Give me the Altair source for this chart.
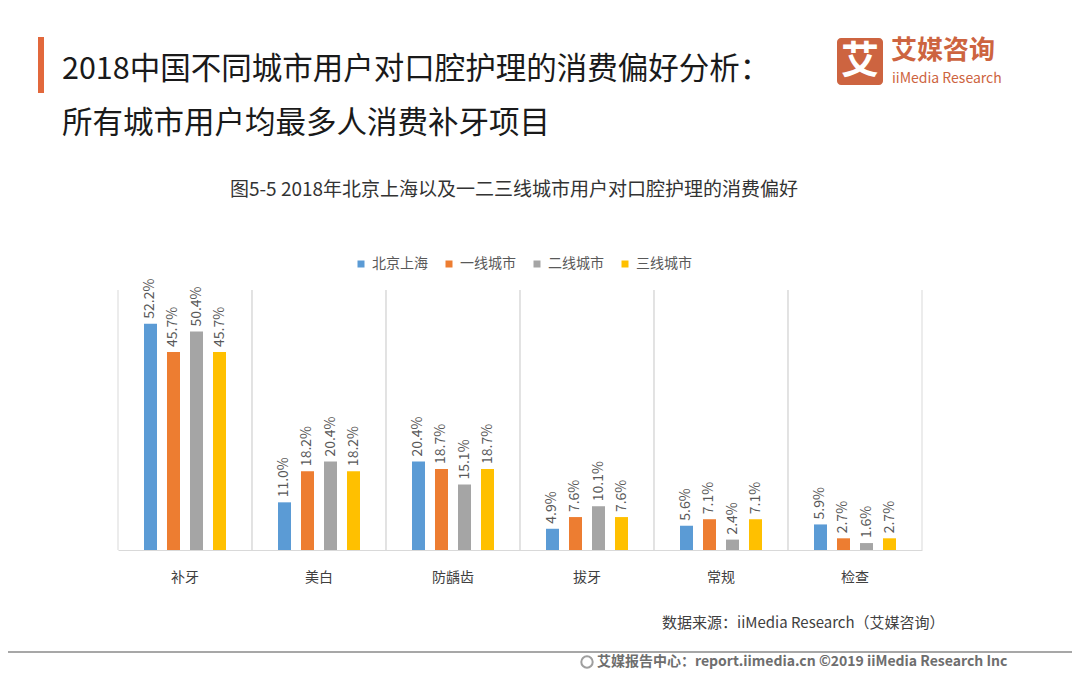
import altair as alt
import pandas as pd

categories = ["补牙", "美白", "防龋齿", "拔牙", "常规", "检查"]
series = ["北京上海", "一线城市", "二线城市", "三线城市"]
beijing_shanghai = [52.2, 11.0, 20.4, 4.9, 5.6, 5.9]
tier1 = [45.7, 18.2, 18.7, 7.6, 7.1, 2.7]
tier2 = [50.4, 20.4, 15.1, 10.1, 2.4, 1.6]
tier3 = [45.7, 18.2, 18.7, 7.6, 7.1, 2.7]
colors = ["#5B9BD5", "#ED7D31", "#A5A5A5", "#FFC000"]

title1 = "2018中国不同城市用户对口腔护理的消费偏好分析："
title2 = "所有城市用户均最多人消费补牙项目"
subtitle = "图5-5  2018年北京上海以及一二三线城市用户对口腔护理的消费偏好"
source = "数据来源：iiMedia Research（艾媒咨询）"
footer = "艾媒报告中心：report.iimedia.cn   ©2019   iiMedia Research Inc"
logo_cn = "艾媒咨询"
logo_en = "iiMedia Research"

FONT = "Noto Sans CJK SC"

rows = []
for s, vals in zip(series, [beijing_shanghai, tier1, tier2, tier3]):
    for c, v in zip(categories, vals):
        rows.append({"cat": c, "series": s, "value": v, "label": f"{v:.1f}%"})
df = pd.DataFrame(rows)
cat_df = pd.DataFrame({"cat": categories})

W, H = 804, 260

x_enc = alt.X(
    "cat:N", sort=categories,
    scale=alt.Scale(paddingInner=0, paddingOuter=0),
    axis=alt.Axis(title=None, labels=False, ticks=False, grid=False,
                  domainColor="#D9D9D9"),
)
xo_enc = alt.XOffset("series:N", sort=series,
                     scale=alt.Scale(paddingInner=0, paddingOuter=0.913))
y_enc = alt.Y("value:Q", scale=alt.Scale(domain=[0, 60]), axis=None)

base = alt.Chart(df)

bars = base.mark_bar(width=13).encode(
    x=x_enc, xOffset=xo_enc, y=y_enc,
    color=alt.Color("series:N", sort=series,
                    scale=alt.Scale(domain=series, range=colors),
                    legend=alt.Legend(title=None, orient="none", legendX=236, legendY=-33,
                                      direction="horizontal", symbolType="square",
                                      symbolSize=49, symbolStrokeWidth=0,
                                      labelFont=FONT, labelFontSize=14,
                                      labelColor="#595959", columnPadding=14,
                                      labelOffset=4, padding=0)),
)

labels = base.mark_text(angle=270, align="left", baseline="middle", dx=5,
                        font=FONT, fontSize=14, color="#595959").encode(
    x=x_enc, xOffset=xo_enc, y=y_enc, text="label:N",
)

cat_labels = alt.Chart(cat_df).mark_text(
    align="center", baseline="middle", font=FONT, fontSize=14, color="#404040",
).encode(
    x=alt.X("cat:N", sort=categories), y=alt.value(288), text="cat:N",
)

left_edges = alt.Chart(cat_df).mark_rule(color="#D9D9D9", strokeWidth=1).encode(
    x=alt.X("cat:N", sort=categories, bandPosition=0),
)
right_edges = alt.Chart(cat_df).mark_rule(color="#D9D9D9", strokeWidth=1).encode(
    x=alt.X("cat:N", sort=categories, bandPosition=1),
)

one = pd.DataFrame({"t": [0]})


def txt(text, x, y, size, color, align="left", weight="normal", baseline="middle"):
    return alt.Chart(pd.DataFrame({"t": [text]})).mark_text(
        align=align, baseline=baseline, font=FONT, fontSize=size, color=color,
        fontWeight=weight,
    ).encode(x=alt.value(x), y=alt.value(y), text="t:N")


accent = alt.Chart(one).mark_rect(color="#E2683C").encode(
    x=alt.value(-80), x2=alt.value(-74), y=alt.value(-253), y2=alt.value(-197))

logo_box = alt.Chart(one).mark_rect(color="#CD6440", cornerRadius=4).encode(
    x=alt.value(837 - 118), x2=alt.value(883 - 118),
    y=alt.value(38 - 290), y2=alt.value(85 - 290))

footer_line = alt.Chart(one).mark_rule(color="#8A8A8A", strokeWidth=1.5).encode(
    x=alt.value(-118), x2=alt.value(960), y=alt.value(652 - 290))

globe = alt.Chart(one).mark_point(shape="circle", filled=False, color="#777777",
                                  strokeWidth=2, size=130).encode(
    x=alt.value(587 - 118), y=alt.value(662 - 290))

layers = [
    left_edges, right_edges, bars, labels, cat_labels,
    accent,
    txt(title1, 62 - 118, 70 - 290, 30.5, "#1A1A1A"),
    txt(title2, 62 - 118, 124 - 290, 30.5, "#1A1A1A"),
    logo_box,
    txt("艾", 860 - 118, 62 - 290, 38, "#FFFFFF", align="center", weight="bold"),
    txt(logo_cn, 891 - 118, 51 - 290, 26, "#CD6440", weight="bold"),
    txt(logo_en, 892 - 118, 79 - 290, 14, "#CD6440"),
    txt(subtitle, 514 - 118, 190 - 290, 19, "#333333", align="center"),
    txt(source, 662 - 118, 623 - 290, 15, "#404040"),
    footer_line,
    globe,
    txt(footer, 597 - 118, 662 - 290, 14, "#6E6E6E", weight="bold"),
]

chart = alt.layer(*layers).properties(
    width=W, height=H,
    autosize=alt.AutoSizeParams(type="none"),
    padding={"left": 110, "top": 282, "right": 150, "bottom": 119},
    background="#FFFFFF",
).configure_view(stroke=None)

chart.save("out.html", embed_options={"renderer": "svg", "actions": False})
